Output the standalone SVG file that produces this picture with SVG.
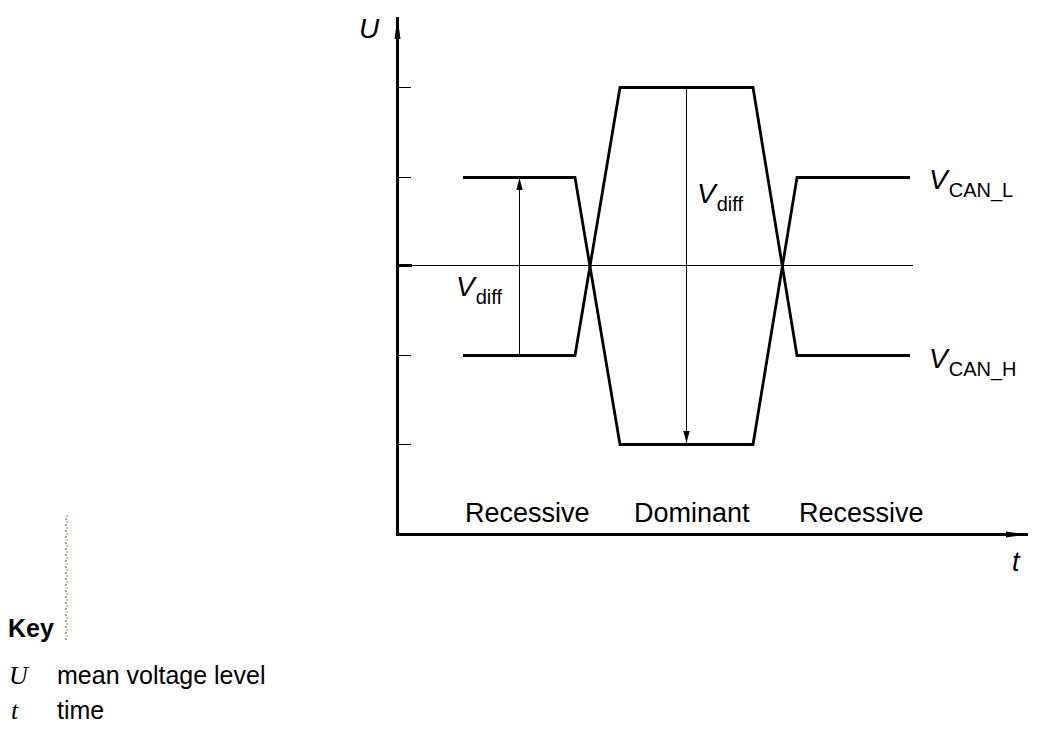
<svg xmlns="http://www.w3.org/2000/svg" width="1041" height="738" viewBox="0 0 1041 738">
<style>
.ax{stroke:#000;stroke-width:3;fill:none}
.sig{stroke:#000;stroke-width:2.8;fill:none;stroke-linejoin:miter}
.thin{stroke:#000;stroke-width:1;fill:none}
.sans{font-family:"Liberation Sans",Arial,sans-serif;fill:#000}
.it{font-style:italic}
.serif{font-family:"Liberation Serif","Times New Roman",serif;font-style:italic;fill:#000}
</style>
<defs>
<marker id="ah" markerWidth="12" markerHeight="8" refX="12" refY="4" orient="auto" markerUnits="userSpaceOnUse">
<path d="M0,0.8 L12,4 L0,7.2 Z" fill="#000"/>
</marker>
<marker id="axh" markerWidth="22" markerHeight="8" refX="22" refY="4" orient="auto" markerUnits="userSpaceOnUse">
<path d="M0,1 L22,4 L0,7 Z" fill="#000"/>
</marker>
</defs>
<rect width="1041" height="738" fill="#fff"/>
<g id="connectors">
<line class="ax" x1="397.5" y1="536" x2="397.5" y2="17" marker-end="url(#axh)"/>
<line class="ax" x1="396" y1="534.5" x2="1028" y2="534.5" marker-end="url(#axh)"/>
<line class="thin" x1="397" y1="87.5" x2="411" y2="87.5"/>
<line class="thin" x1="397" y1="177.5" x2="411" y2="177.5"/>
<line class="thin" x1="397" y1="355.5" x2="411" y2="355.5"/>
<line class="thin" x1="397" y1="444.5" x2="411" y2="444.5"/>
<line class="ax" x1="397" y1="265.5" x2="412" y2="265.5"/>
<line class="thin" x1="397" y1="265.5" x2="913" y2="265.5"/>
<line class="thin" x1="519.5" y1="355" x2="519.5" y2="178" marker-end="url(#ah)"/>
<line class="thin" x1="686.5" y1="87" x2="686.5" y2="443" marker-end="url(#ah)"/>
</g>
<g id="can_l">
<polyline class="sig" points="463,177.5 575,177.5 620,444.5 753,444.5 797,177.5 910,177.5"/>
</g>
<g id="can_h">
<polyline class="sig" points="463,355.5 575,355.5 620,87.5 753,87.5 797,355.5 910,355.5"/>
</g>
<g id="labels">
<text class="sans it" x="359" y="38" font-size="28">U</text>
<text class="sans it" x="1012" y="571" font-size="27">t</text>
<text class="sans" x="929" y="189" font-size="28"><tspan class="it">V</tspan><tspan font-size="20" dy="8" dx="1">CAN_L</tspan></text>
<text class="sans" x="929" y="368" font-size="28"><tspan class="it">V</tspan><tspan font-size="20" dy="8" dx="1">CAN_H</tspan></text>
<text class="sans" x="697" y="203" font-size="28"><tspan class="it">V</tspan><tspan font-size="20" dy="8" dx="1">diff</tspan></text>
<text class="sans" x="456" y="296" font-size="28"><tspan class="it">V</tspan><tspan font-size="20" dy="8" dx="1">diff</tspan></text>
<text class="sans" x="465" y="522" font-size="27">Recessive</text>
<text class="sans" x="634" y="522" font-size="27">Dominant</text>
<text class="sans" x="799" y="522" font-size="27">Recessive</text>
</g>
<g id="key">
<line x1="67" y1="515" x2="67" y2="640" stroke="#d09050" stroke-width="1.2" stroke-dasharray="2,4"/>
<line x1="66" y1="518" x2="66" y2="640" stroke="#5070a0" stroke-width="1.2" stroke-dasharray="2,4"/>
<text class="sans" x="8" y="637" font-size="25" font-weight="bold">Key</text>
<text class="serif" x="9" y="684" font-size="26">U</text>
<text class="sans" x="57" y="684" font-size="25">mean voltage level</text>
<text class="serif" x="11" y="719" font-size="26">t</text>
<text class="sans" x="57" y="719" font-size="25">time</text>
</g>
</svg>
